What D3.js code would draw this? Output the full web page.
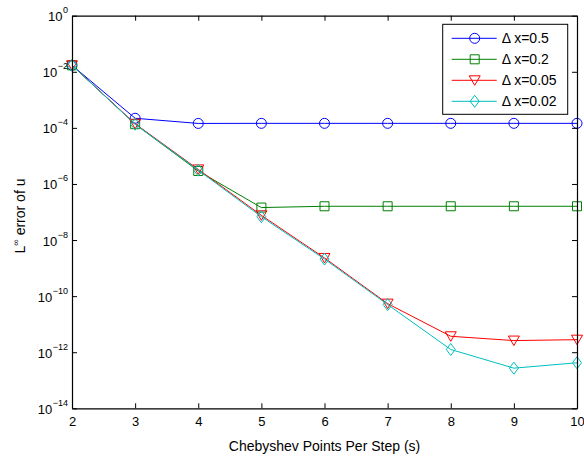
<!DOCTYPE html>
<html>
<head>
<meta charset="utf-8">
<script src="https://cdn.jsdelivr.net/npm/d3@7"></script>
<style>
  html, body { margin: 0; padding: 0; background: #fff; overflow: hidden; }
  svg { display: block; }
  text { font-family: "Liberation Sans", Arial, Helvetica, sans-serif; }
</style>
</head>
<body><svg id="chart" width="584" height="460"></svg><script>
const svg = d3.select("#chart");

// data
var steps = [2, 3, 4, 5, 6, 7, 8, 9, 10];
var dx05  = [1.7e-2, 2.2e-4, 1.44e-4, 1.45e-4, 1.45e-4, 1.45e-4, 1.45e-4, 1.45e-4, 1.45e-4];
var dx02  = [1.7e-2, 1.35e-4, 2.9e-6, 1.44e-7, 1.6e-7, 1.6e-7, 1.6e-7, 1.6e-7, 1.6e-7];
var dx005 = [1.7e-2, 1.4e-4, 3.3e-6, 7.6e-8, 2.3e-9, 5.4e-11, 3.7e-12, 2.6e-12, 2.8e-12];
var dx002 = [1.7e-2, 1.35e-4, 3.1e-6, 6.8e-8, 2.1e-9, 5.0e-11, 1.25e-12, 2.7e-13, 4.2e-13];
var seriesNames = ["\u0394 x=0.5", "\u0394 x=0.2", "\u0394 x=0.05", "\u0394 x=0.02"];
var yTickExps = [0, -2, -4, -6, -8, -10, -12, -14];

var series = [
  {name: seriesNames[0], values: dx05,  color: "#0000ff", marker: "circle"},
  {name: seriesNames[1], values: dx02,  color: "#008000", marker: "square"},
  {name: seriesNames[2], values: dx005, color: "#ff0000", marker: "tridown"},
  {name: seriesNames[3], values: dx002, color: "#00bfbf", marker: "diamond"}
];

var margin = {top: 15.7, right: 7, bottom: 51.7, left: 72};
var width = +svg.attr("width"), height = +svg.attr("height");
var innerWidth = width - margin.left - margin.right;
var innerHeight = height - margin.top - margin.bottom;

var x = d3.scaleLinear().domain([2, 10]).range([margin.left, margin.left + innerWidth]);
var y = d3.scaleLog().domain([1e-14, 1]).range([margin.top + innerHeight, margin.top]);

// marker shapes
function markerPath(type) {
  switch (type) {
    case "circle": return d3.symbol().type(d3.symbolCircle).size(Math.PI * 25)();
    case "square": return "M-4.5,-4.5H4.5V4.5H-4.5Z";
    case "tridown": return "M-5.5,-4.5H5.5L0,5Z";
    case "diamond": return "M0,-6L4.5,0L0,6L-4.5,0Z";
  }
}

var line = d3.line().x((d, i) => x(steps[i])).y(d => y(d));

var plot = svg.append("g");
series.forEach(s => {
  plot.append("path")
    .attr("d", line(s.values))
    .attr("fill", "none")
    .attr("stroke", s.color)
    .attr("stroke-width", 1);
  plot.selectAll(null).data(s.values).enter().append("path")
    .attr("transform", (d, i) => `translate(${x(steps[i])},${y(d)})`)
    .attr("d", markerPath(s.marker))
    .attr("fill", "none")
    .attr("stroke", s.color)
    .attr("stroke-width", 1);
});

// axes, inward ticks, mirrored on top and right
var yVals = yTickExps.map(e => Math.pow(10, e));
var xAxis = d3.axisBottom(x).tickValues(steps).tickSizeInner(-5).tickSizeOuter(0).tickPadding(8);
var xAxisTop = d3.axisTop(x).tickValues(steps).tickSizeInner(-5).tickSizeOuter(0);
var yAxis = d3.axisLeft(y).tickValues(yVals).tickSizeInner(-5).tickSizeOuter(0);
var yAxisRight = d3.axisRight(y).tickValues(yVals).tickSizeInner(-5).tickSizeOuter(0);

var xG = svg.append("g").attr("transform", `translate(0,${margin.top + innerHeight})`).call(xAxis);
var xTopG = svg.append("g").attr("transform", `translate(0,${margin.top})`).call(xAxisTop);
var yG = svg.append("g").attr("transform", `translate(${margin.left},0)`).call(yAxis);
var yRightG = svg.append("g").attr("transform", `translate(${margin.left + innerWidth},0)`).call(yAxisRight);

// only the bottom axis keeps its own labels
xTopG.selectAll(".tick text").remove();
yG.selectAll(".tick text").remove();
yRightG.selectAll(".tick text").remove();

svg.selectAll(".domain").attr("stroke", "#000").attr("stroke-width", 1.2);
svg.selectAll(".tick line").attr("stroke", "#000");

xG.selectAll(".tick text")
  .attr("font-size", 13)
  .attr("fill", "#000")
  .attr("font-family", "Liberation Sans, Arial, sans-serif");

// y tick labels: 10 with a superscript exponent
var yLab = svg.append("g");
yTickExps.forEach(e => {
  var ty = y(Math.pow(10, e));
  var ex = yLab.append("text")
    .attr("x", margin.left - 4).attr("y", ty - 2.5)
    .attr("text-anchor", "end")
    .attr("font-size", 9).attr("fill", "#000")
    .text(e < 0 ? "\u2212" + (-e) : String(e));
  var w = ex.node().getComputedTextLength();
  yLab.append("text")
    .attr("x", margin.left - 4 - w - 0.5).attr("y", ty + 5.5)
    .attr("text-anchor", "end")
    .attr("font-size", 13).attr("fill", "#000")
    .text("10");
});

// axis labels
svg.append("text")
  .attr("x", margin.left + innerWidth / 2)
  .attr("y", margin.top + innerHeight + 43)
  .attr("text-anchor", "middle")
  .attr("font-size", 14)
  .attr("fill", "#000")
  .text("Chebyshev Points Per Step (s)");

var yl = svg.append("text")
  .attr("transform", `translate(25,${margin.top + innerHeight / 2 + 4}) rotate(-90)`)
  .attr("text-anchor", "middle")
  .attr("font-size", 14)
  .attr("fill", "#000");
yl.append("tspan").text("L");
yl.append("tspan").attr("font-size", 9).attr("dy", -6).text("\u221e");
yl.append("tspan").attr("dy", 6).text(" error of u");

// legend
var lg = svg.append("g").attr("transform", "translate(442.7,24.3)");
lg.append("rect").attr("width", 125).attr("height", 90)
  .attr("fill", "#fff").attr("stroke", "#000").attr("stroke-width", 1);
series.forEach((s, i) => {
  var row = lg.append("g").attr("transform", `translate(0,${14 + i * 21})`);
  row.append("line").attr("x1", 9).attr("x2", 54).attr("y1", 0).attr("y2", 0)
    .attr("stroke", s.color).attr("stroke-width", 1);
  row.append("path").attr("transform", "translate(32,0)")
    .attr("d", markerPath(s.marker)).attr("fill", "none").attr("stroke", s.color);
  row.append("text").attr("x", 59).attr("y", 5)
    .attr("font-size", 14).attr("fill", "#000").text(s.name);
});
</script></body>
</html>
